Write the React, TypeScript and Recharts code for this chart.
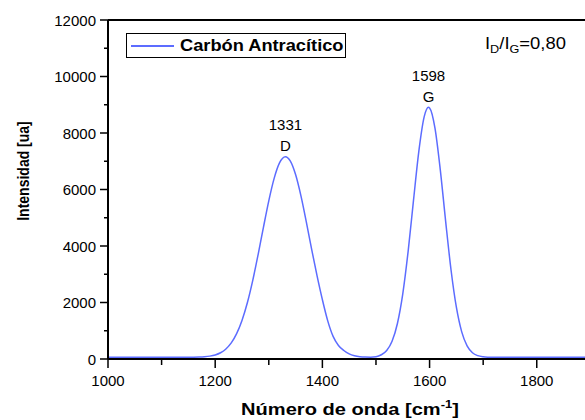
import React from "react";
import {
  Legend,
  Line,
  LineChart,
  ReferenceDot,
  ReferenceLine,
  XAxis,
  YAxis,
} from "recharts";

// Raman spectrum of anthracite coal (D and G bands)
const waveNumbers = [
  1000, 1100, 1150, 1160, 1170, 1180, 1190, 1200, 1210, 1220, 1230, 1240,
  1250, 1260, 1270, 1280, 1290, 1300, 1310, 1320, 1331, 1340, 1350, 1360,
  1370, 1380, 1390, 1400, 1410, 1420, 1430, 1440, 1450, 1460, 1470, 1480,
  1490, 1500, 1510, 1520, 1530, 1540, 1550, 1560, 1570, 1580, 1590, 1598,
  1600, 1610, 1620, 1630, 1640, 1650, 1660, 1670, 1680, 1690, 1700, 1710,
  1720, 1800, 1890,
];
const intensity = [
  60, 60, 62, 64, 69, 80, 102, 144, 222, 355, 569, 896,
  1365, 1991, 2776, 3687, 4660, 5600, 6394, 6942, 7160, 7013, 6528, 5773,
  4854, 3879, 2950, 2100, 1350, 800, 480, 300, 180, 115, 80, 68,
  66, 80, 150, 298, 626, 1258, 2308, 3812, 5613, 7360, 8580, 8910,
  8889, 8184, 6696, 4874, 3160, 1833, 960, 466, 223, 118, 78, 65,
  61, 60, 60,
];

const peakPositions = [1331, 1598];
const peakIntensity = [7160, 8910];
const peakNames = ["D", "G"];

const xTicks = [1000, 1100, 1200, 1300, 1400, 1500, 1600, 1700, 1800];
const yTicks = [
  0, 1000, 2000, 3000, 4000, 5000, 6000, 7000, 8000, 9000, 10000, 11000, 12000,
];

const seriesName = "Carbón Antracítico";
const ratioText = "0,80";

const data = waveNumbers.map((w, i) => ({ w, v: intensity[i] }));

const FONT = "'Liberation Sans', Arial, sans-serif";
const LINE_COLOR = "#5c6cff";

const XTick = ({ x, y, payload }: any) => {
  const major = payload.value % 200 === 0;
  return (
    <g>
      <line x1={x} x2={x} y1={y} y2={y + (major ? 9 : 6)} stroke="#000" strokeWidth={1.5} />
      {major && (
        <text x={x} y={y + 21} textAnchor="middle" dominantBaseline="central" fontSize={15} fontFamily={FONT} fill="#000">
          {payload.value}
        </text>
      )}
    </g>
  );
};

const YTick = ({ x, y, payload }: any) => {
  const major = payload.value % 2000 === 0;
  return (
    <g>
      <line x1={x - (major ? 8 : 4)} x2={x} y1={y} y2={y} stroke="#000" strokeWidth={1.5} />
      {major && (
        <text x={x - 12} y={y} textAnchor="end" dominantBaseline="central" fontSize={15} fontFamily={FONT} fill="#000">
          {payload.value}
        </text>
      )}
    </g>
  );
};

const PeakMark = (name: string, pos: number) => (p: any) => (
  <g fontFamily={FONT} fontSize={15} fill="#000" textAnchor="middle">
    <text x={p.cx} y={p.cy - 32} dominantBaseline="central">{pos}</text>
    <text x={p.cx} y={p.cy - 11} dominantBaseline="central">{name}</text>
  </g>
);

const LegendBox = () => (
  <div
    style={{
      width: 218,
      height: 23,
      border: "1px solid #000",
      display: "flex",
      alignItems: "center",
      fontFamily: FONT,
      fontWeight: "bold",
      fontSize: 16,
      background: "#fff",
    }}
  >
    <span style={{ display: "inline-block", width: 43, height: 0, borderTop: `2px solid ${LINE_COLOR}`, marginLeft: 4, marginRight: 6 }} />
    <span style={{ display: "inline-block", transform: "scaleX(1.14)", transformOrigin: "left center", whiteSpace: "nowrap" }}>
      {seriesName}
    </span>
  </div>
);

export default function App() {
  return (
    <div style={{ position: "relative", width: 585, height: 420, background: "#fff" }}>
      <style>{"body{margin:0;overflow:hidden;}"}</style>
      <LineChart width={585} height={420} data={data} margin={{ top: 20, right: 0, bottom: 0, left: 0 }}>
        <XAxis
          dataKey="w"
          type="number"
          domain={[1000, 1890]}
          ticks={xTicks}
          allowDataOverflow
          height={61}
          tickSize={0}
          tickMargin={0}
          tick={<XTick />}
          axisLine={{ stroke: "#000", strokeWidth: 2 }}
          tickLine={false}
          interval={0}
        />
        <YAxis
          type="number"
          domain={[0, 12000]}
          ticks={yTicks}
          width={108}
          tickSize={0}
          tickMargin={0}
          tick={<YTick />}
          axisLine={{ stroke: "#000", strokeWidth: 2 }}
          tickLine={false}
          interval={0}
        />
        <ReferenceLine y={12000} stroke="#000" strokeWidth={2} />
        <Line
          dataKey="v"
          name={seriesName}
          type="monotone"
          stroke={LINE_COLOR}
          strokeWidth={1.5}
          dot={false}
          isAnimationActive={false}
        />
        {peakPositions.map((pos, i) => (
          <ReferenceDot
            key={pos}
            x={pos}
            y={peakIntensity[i]}
            r={0}
            shape={PeakMark(peakNames[i], pos)}
          />
        ))}
        {/* vertical/center/middle keeps the legend from reserving plot space */}
        <Legend
          layout="vertical"
          align="center"
          verticalAlign="middle"
          content={<LegendBox />}
          wrapperStyle={{ position: "absolute", left: 126, top: 33, width: "auto" }}
        />
      </LineChart>
      <div
        style={{
          position: "absolute",
          left: 23,
          top: 171,
          transform: "translate(-50%, -50%) rotate(-90deg) scaleY(1.15)",
          fontFamily: FONT,
          fontWeight: "bold",
          fontSize: 14,
          whiteSpace: "nowrap",
        }}
      >
        Intensidad [ua]
      </div>
      <div
        style={{
          position: "absolute",
          left: 350,
          top: 398,
          transform: "translateX(-50%) scaleX(1.18)",
          fontFamily: FONT,
          fontWeight: "bold",
          fontSize: 17,
          whiteSpace: "nowrap",
        }}
      >
        Número de onda [cm<sup style={{ fontSize: 11 }}>-1</sup>]
      </div>
      <div
        style={{
          position: "absolute",
          left: 485,
          top: 35,
          transform: "scaleX(1.15)",
          transformOrigin: "left center",
          fontFamily: FONT,
          fontSize: 16,
          whiteSpace: "nowrap",
        }}
      >
        I<sub style={{ fontSize: 11 }}>D</sub>/I<sub style={{ fontSize: 11 }}>G</sub>={ratioText}
      </div>
    </div>
  );
}
